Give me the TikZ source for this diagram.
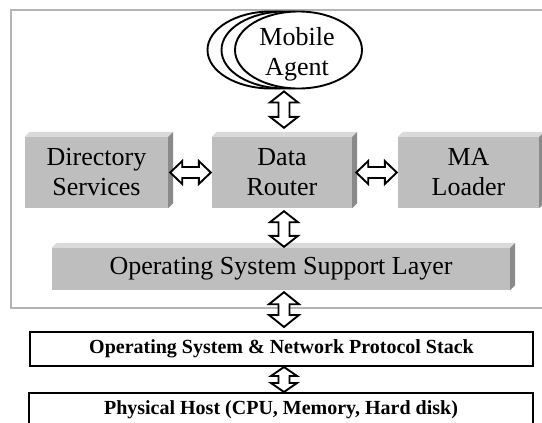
\documentclass[tikz,border=0pt]{standalone}
\usepackage{fontspec}
\setmainfont{Liberation Serif}
\usetikzlibrary{calc,shapes.geometric}

\definecolor{facegray}{HTML}{BEBEBE}
\definecolor{topgray}{HTML}{DADADA}
\definecolor{sidegray}{HTML}{8A8A8A}
\definecolor{framegray}{HTML}{B4B4B4}

% top and right faces of a raised (3-D) box
\newcommand{\bevelbox}[2][5]{%
  \fill[topgray] (#2.north west) -- ++(#1,-#1) -- ($(#2.north east)+(#1,-#1)$) -- (#2.north east) -- cycle;
  \fill[sidegray] (#2.north east) -- ++(#1,-#1) -- ($(#2.south east)+(#1,-#1)$) -- (#2.south east) -- cycle;
}

\tikzset{
  raised/.style={fill=facegray, inner sep=0pt, minimum height=71pt, align=center,
    font=\fontsize{26}{30}\selectfont},
  plainbox/.style={draw=black, line width=2pt, fill=white, inner sep=0pt, minimum height=34pt,
    font=\bfseries\fontsize{20}{24}\selectfont},
  agentshape/.style={ellipse, draw=black, line width=1.9pt, fill=white, inner sep=0pt,
    minimum width=127pt, minimum height=77pt},
  % hollow double-headed block arrow, vertical: half head width / half shaft width / head length
  vblock/.style args={#1/#2/#3}{draw=black, line width=1.9pt, fill=white,
    to path={let \p1=(\tikztostart), \p2=(\tikztotarget) in
      (\x1,\y1) -- (\x1+#1pt,\y1-#3pt) -- (\x1+#2pt,\y1-#3pt) -- (\x1+#2pt,\y2+#3pt)
      -- (\x1+#1pt,\y2+#3pt) -- (\x1,\y2) -- (\x1-#1pt,\y2+#3pt) -- (\x1-#2pt,\y2+#3pt)
      -- (\x1-#2pt,\y1-#3pt) -- (\x1-#1pt,\y1-#3pt) -- cycle}},
  % same, horizontal
  hblock/.style args={#1/#2/#3}{draw=black, line width=1.9pt, fill=white,
    to path={let \p1=(\tikztostart), \p2=(\tikztotarget) in
      (\x1,\y1) -- (\x1+#3pt,\y1+#1pt) -- (\x1+#3pt,\y1+#2pt) -- (\x2-#3pt,\y1+#2pt)
      -- (\x2-#3pt,\y1+#1pt) -- (\x2,\y1) -- (\x2-#3pt,\y1-#1pt) -- (\x2-#3pt,\y1-#2pt)
      -- (\x1+#3pt,\y1-#2pt) -- (\x1+#3pt,\y1-#1pt) -- cycle}}
}

\begin{document}
\begin{tikzpicture}[x=1pt,y=-1pt]
\useasboundingbox (0,0) rectangle (542,423);
\clip (0,0) rectangle (542,423);

% mobile-agent platform frame
\draw[framegray, line width=2.2pt] (11,10) rectangle (560,308);

% platform components
\node[raised, minimum width=143pt] (ds) at (96.5,172.5) {Directory\\Services};
\node[raised, minimum width=140pt] (dr) at (282,172.5) {Data\\Router};
\node[raised, minimum width=141pt] (ma) at (468.5,172.5) {MA\\Loader};
\node[raised, minimum width=458pt, minimum height=42pt] (os) at (281,269) {Operating System Support Layer};
\bevelbox{ds}
\bevelbox{dr}
\bevelbox{ma}
\bevelbox{os}

% host layers
\node[plainbox, minimum width=503pt] (net) at (281.5,349) {Operating System \& Network Protocol Stack};
\node[plainbox, minimum width=504pt] (host) at (281,410) {Physical Host (CPU, Memory, Hard disk)};

% stacked mobile agents
\node[agentshape] (agent3) at (271,50) {};
\node[agentshape] (agent2) at (285,50) {};
\node[agentshape] (agent) at (298.5,50) {};
\node[font=\fontsize{26}{30}\selectfont, align=center, inner sep=0pt] (agentlbl) at (297,54) {Mobile\\Agent};

% links
\coordinate (axis) at (284,0);
\draw[vblock=14/5.5/11] ($(agent.south -| axis)+(0,2)$) to ($(dr.north -| axis)+(0,-9)$);
\draw[vblock=14/5.5/11] ($(dr.south -| axis)+(0,3)$) to ($(os.north -| axis)+(0,-1)$);
\draw[vblock=15/5.5/12] ($(os.south -| axis)+(0,2)$) to ($(net.north -| axis)+(0,-4)$);
\draw[vblock=13/5.5/9] ($(net.south -| axis)+(0,0)$) to ($(host.north -| axis)+(0,0)$);
\draw[hblock=11.5/5.5/12] ($(ds.east)+(2,0)$) to ($(dr.west)+(-1,0)$);
\draw[hblock=11.5/5.5/12] ($(dr.east)+(4,0)$) to ($(ma.west)+(-1,0)$);
\end{tikzpicture}
\end{document}
